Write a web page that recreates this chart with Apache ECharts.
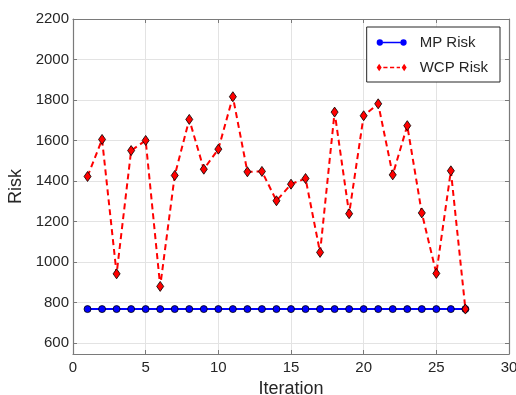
<!DOCTYPE html>
<html><head><meta charset="utf-8">
<script src="https://cdn.jsdelivr.net/npm/echarts@6/dist/echarts.min.js"></script>
<style>html,body{margin:0;padding:0;background:#fff}#c{width:516px;height:395px}</style>
</head><body><div id="c"></div>
<script>
const iterations = [1,2,3,4,5,6,7,8,9,10,11,12,13,14,15,16,17,18,19,20,21,22,23,24,25,26,27];
const mpRisk = [767,767,767,767,767,767,767,767,767,767,767,767,767,767,767,767,767,767,767,767,767,767,767,767,767,767,767];
const wcpRisk = [1422,1605,941,1550,1600,879,1427,1704,1458,1557,1816,1445,1447,1302,1384,1412,1047,1740,1238,1722,1781,1430,1673,1242,943,1450,767];
const xTicks = [0,5,10,15,20,25,30];
const yTicks = [600,800,1000,1200,1400,1600,1800,2000,2200];

const font = 'Liberation Sans, Arial, sans-serif';
const axisCol = '#7a7a7a';
const gridCol = '#e3e3e3';
const textCol = '#262626';

const mpIcon = 'path://M1,5A4,4 0 1,1 9,5A4,4 0 1,1 1,5ZM9,4.2L31,4.2L31,5.8L9,5.8ZM31,5A4,4 0 1,1 39,5A4,4 0 1,1 31,5Z';
const wcpIcon = 'path://M5,0.5L8,5L5,9.5L2,5ZM10,4.2L15,4.2L15,5.8L10,5.8ZM18,4.2L23,4.2L23,5.8L18,5.8ZM26,4.2L30,4.2L30,5.8L26,5.8ZM35,0.5L38,5L35,9.5L32,5Z';

const chart = echarts.init(document.getElementById('c'), null, {renderer:'canvas'});
const mkX = (show) => ({
  type:'value', min:0, max:30, interval:5,
  position: show ? 'bottom' : 'top',
  name: show ? 'Iteration' : '', nameLocation:'middle', nameGap:25,
  nameTextStyle:{fontFamily:font, fontSize:18, color:textCol},
  axisLine:{show:true, onZero:false, lineStyle:{color:axisCol, width:1.2}},
  axisTick:{show:true, inside:true, length:4, lineStyle:{color:axisCol}},
  axisLabel:{show:show, fontFamily:font, fontSize:15, color:textCol, margin:6,
    formatter:(v)=> xTicks.includes(v) ? String(v) : ''},
  splitLine:{show:show, lineStyle:{color:gridCol, width:1}}
});
const mkY = (show) => ({
  type:'value', min:545, max:2200, minInterval:200, maxInterval:200,
  position: show ? 'left' : 'right',
  name: show ? 'Risk' : '', nameLocation:'middle', nameGap:47,
  nameTextStyle:{fontFamily:font, fontSize:18, color:textCol},
  axisLine:{show:true, onZero:false, lineStyle:{color:axisCol, width:1.2}},
  axisTick:{show:true, inside:true, length:4, lineStyle:{color:axisCol}},
  axisLabel:{show:show, fontFamily:font, fontSize:15, color:textCol, margin:4, showMinLabel:false,
    formatter:(v)=> yTicks.includes(v) ? String(v) : ''},
  splitLine:{show:show, lineStyle:{color:gridCol, width:1}}
});

chart.setOption({
  animation:false,
  backgroundColor:'#fff',
  grid:{left:73, right:7, top:19, bottom:41, containLabel:false, outerBoundsMode:'none'},
  xAxis:[mkX(true), mkX(false)],
  yAxis:[mkY(true), mkY(false)],
  legend:{
    right:16, top:27, orient:'vertical',
    backgroundColor:'#fff', borderColor:textCol, borderWidth:1, borderRadius:0,
    padding:[8,12,7,10], itemGap:10, itemWidth:30, itemHeight:8,
    textStyle:{fontFamily:font, fontSize:15, color:textCol, padding:[0,0,0,8]},
    data:[
      {name:'MP Risk', icon:mpIcon, itemStyle:{color:'#0000ff', borderWidth:0}},
      {name:'WCP Risk', icon:wcpIcon, itemStyle:{color:'#ff0000', borderWidth:0}}
    ]
  },
  series:[
    {name:'MP Risk', type:'line', xAxisIndex:0, yAxisIndex:0,
     data: iterations.map((x,i)=>[x, mpRisk[i]]),
     symbol:'circle', symbolSize:7,
     lineStyle:{color:'#0000ff', width:2},
     itemStyle:{color:'#0000ff', borderColor:'#000', borderWidth:0.8}},
    {name:'WCP Risk', type:'line', xAxisIndex:0, yAxisIndex:0,
     data: iterations.map((x,i)=>[x, wcpRisk[i]]),
     symbol:'diamond', symbolSize:[7,10],
     lineStyle:{color:'#ff0000', width:2, type:[6,4]},
     itemStyle:{color:'#ff0000', borderColor:'#000', borderWidth:0.8}}
  ]
});
</script></body></html>
